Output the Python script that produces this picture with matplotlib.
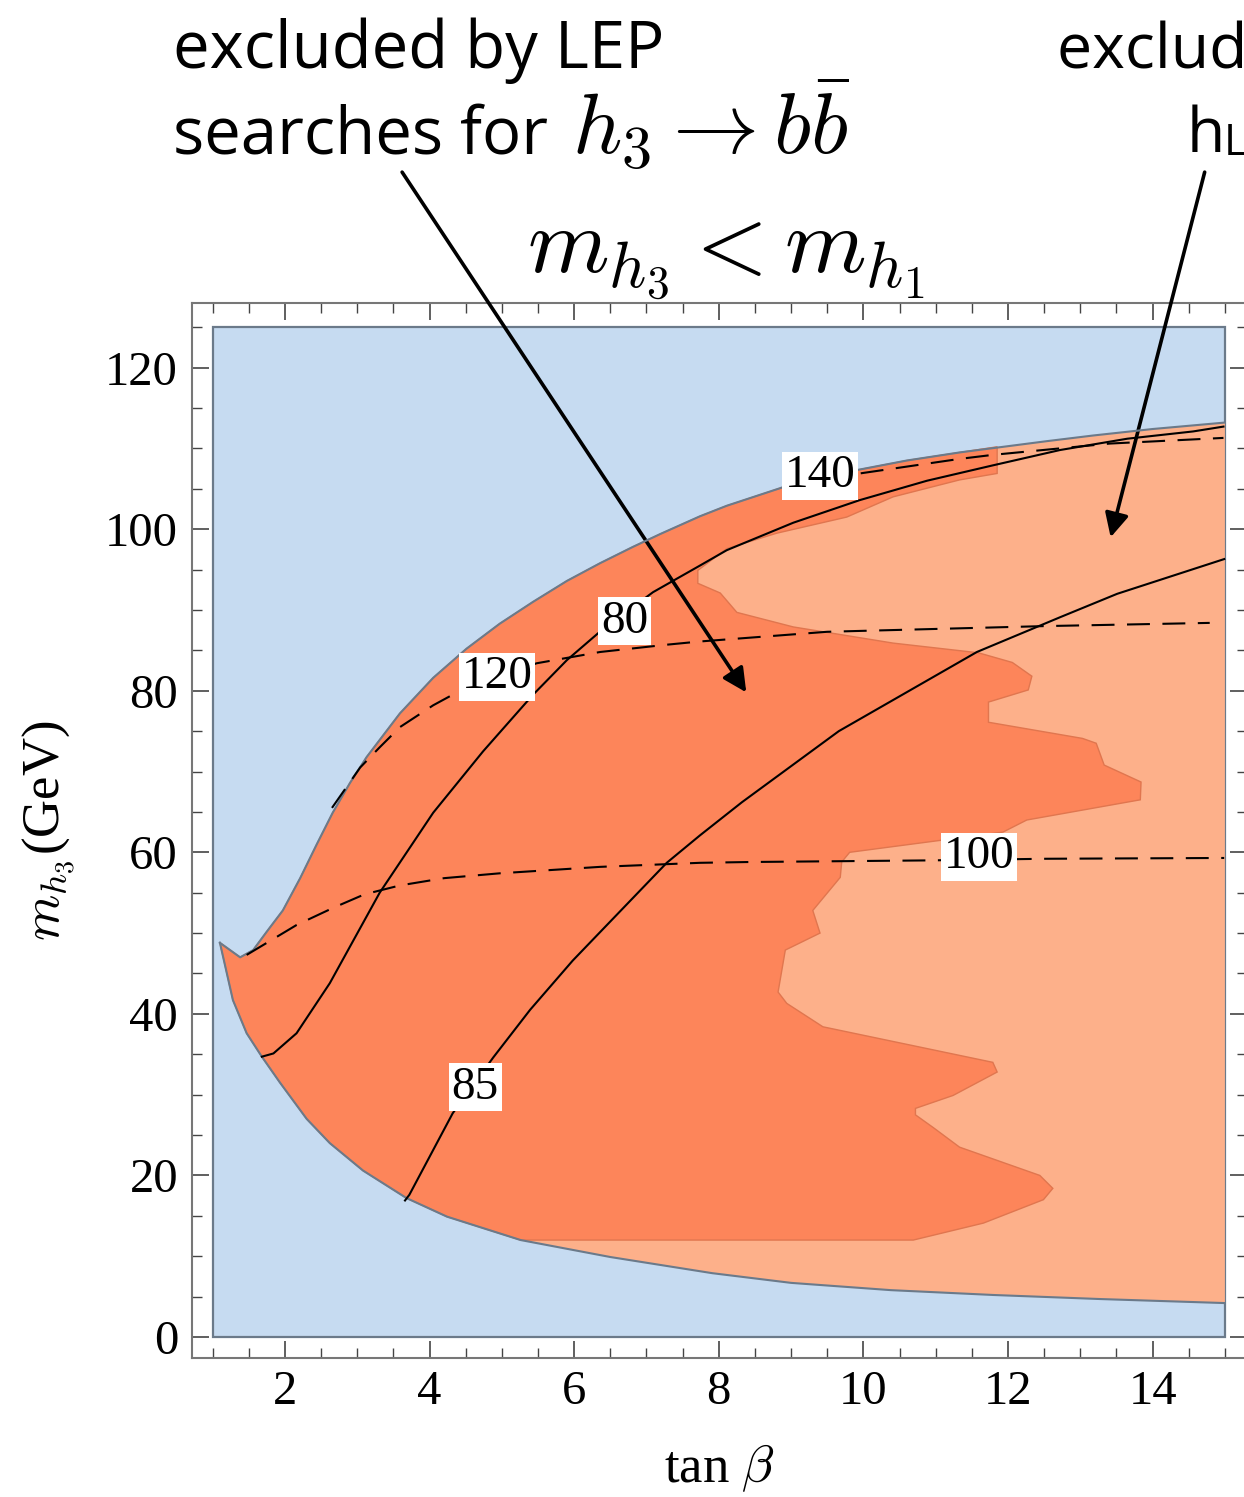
import matplotlib.pyplot as plt
from matplotlib.patches import Rectangle
from matplotlib.ticker import MultipleLocator

plt.rcParams['mathtext.fontset'] = 'cm'
plt.rcParams['font.family'] = ['Liberation Serif', 'DejaVu Serif']

# allowed region: upper edge (starts at the tip near tan(beta)=1.1)
ub_tb = [1.10, 1.38, 1.56, 1.75, 1.97, 2.21, 2.44, 2.66, 2.90, 3.13, 3.59, 4.05, 4.51,
         4.97, 5.43, 5.90, 6.36, 6.81, 7.19, 7.74, 8.11, 8.89, 9.90, 10.60, 11.33,
         12.54, 13.18, 14.00, 15.0]
ub_m = [48.8, 47.0, 47.9, 50.2, 52.8, 56.8, 61.0, 64.9, 68.6, 71.8, 77.2, 81.6, 85.2,
        88.3, 91.0, 93.6, 95.8, 97.8, 99.4, 101.6, 102.9, 105.2, 107.3, 108.5, 109.5,
        110.9, 111.6, 112.4, 113.2]

# allowed region: lower edge
lb_tb = [1.10, 1.28, 1.47, 1.68, 1.93, 2.30, 2.62, 3.08, 3.68, 4.24, 5.26, 6.50, 7.91,
         9.00, 10.38, 11.80, 13.27, 15.0]
lb_m = [48.8, 41.7, 37.6, 34.7, 31.5, 27.0, 24.0, 20.6, 17.2, 14.9, 12.0, 9.9, 7.9,
        6.7, 5.8, 5.2, 4.7, 4.2]

# right-hand edge of the LEP h3 -> bb excluded area (top to bottom)
lep_tb = [11.85, 11.85, 11.33, 10.41, 9.77, 8.80, 8.11, 7.71, 7.71, 8.02, 8.25, 9.03,
          10.41, 11.59, 12.06, 12.33, 12.28, 11.73, 11.73, 13.03, 13.22, 13.33, 13.84,
          13.83, 12.26, 11.93, 9.81, 9.70, 9.68, 9.30, 9.40, 8.92, 8.82, 8.94, 9.44,
          11.79, 11.85, 11.24, 10.72, 10.72, 10.97, 11.33, 12.44, 12.62, 12.49, 11.66,
          10.69, 5.26]
lep_m = [110.2, 106.9, 106.1, 104.0, 101.5, 99.5, 97.6, 94.9, 93.3, 92.1, 89.7, 87.9,
         85.9, 84.7, 83.5, 81.8, 80.1, 78.6, 76.1, 74.1, 73.5, 70.8, 68.7,
         66.5, 64.0, 62.5, 60.0, 58.8, 56.9, 52.8, 50.0, 47.9, 42.7, 41.3, 38.4,
         34.0, 32.8, 29.9, 28.3, 27.5, 25.9, 23.5, 20.0, 18.4, 17.0, 14.1,
         12.0, 12.0]

# solid contours
c80_tb = [1.68, 1.84, 2.16, 2.62, 3.31, 4.05, 4.74, 5.43, 5.90, 6.38, 7.09, 7.74, 8.11,
          9.03, 9.95, 10.88, 11.79, 12.72, 13.65, 14.56, 14.98]
c80_m = [34.7, 35.1, 37.6, 43.8, 55.0, 64.9, 72.5, 79.5, 83.8, 87.5, 92.2, 95.5, 97.4,
         100.8, 103.6, 106.0, 107.9, 109.8, 111.2, 112.1, 112.7]
c85_tb = [3.66, 3.72, 4.32, 4.88, 5.39, 5.98, 7.28, 7.74, 8.32, 9.66, 11.57, 12.72,
          13.51, 14.99]
c85_m = [16.9, 17.6, 27.7, 34.6, 40.5, 46.6, 58.7, 62.1, 66.2, 75.0, 84.8, 89.1,
         92.0, 96.3]

# dashed contours
c100_tb = [1.47, 1.75, 2.16, 2.66, 3.10, 3.59, 4.20, 4.97, 6.36, 7.74, 8.43, 10.92,
           12.50, 14.99]
c100_m = [47.3, 48.8, 51.0, 53.1, 54.8, 55.9, 56.8, 57.4, 58.2, 58.7, 58.8, 59.0,
          59.2, 59.3]
c120_tb = [2.65, 3.04, 3.31, 3.59, 4.05, 4.42, 5.48, 6.36, 7.28, 7.74, 9.50, 12.49, 14.79]
c120_m = [65.5, 70.5, 73.0, 75.5, 78.2, 80.0, 83.4, 84.8, 85.7, 86.1, 87.3, 88.0, 88.4]
c140_tb = [9.00, 9.95, 11.33, 11.79, 13.41, 14.98]
c140_m = [105.3, 106.9, 108.7, 109.2, 110.6, 111.3]

blue = '#c6dbf1'
dark = '#fd855a'
light = '#fdb08a'
edge = '#6b7a8a'

W, H = 1244, 1497
fig = plt.figure(figsize=(W / 100, H / 100), dpi=100)
ax = fig.add_axes([192 / W, 139 / H, 1054.6 / W, 1055 / H])
ax.set_xlim(0.714, 15.3)
ax.set_ylim(-2.6, 128.0)

ax.add_patch(Rectangle((1, 0), 14, 125, facecolor=blue, edgecolor=edge, lw=1.6, zorder=1))

# light region: everything between the two edges
reg_x = ub_tb + [15.0] + lb_tb[::-1]
reg_y = ub_m + [lb_m[-1]] + lb_m[::-1]
ax.fill(reg_x, reg_y, color=light, lw=0, zorder=2)

# dark region: LEP exclusion
ub_part = [(t, m) for t, m in zip(ub_tb, ub_m) if t < 11.85]
lb_part = [(t, m) for t, m in zip(lb_tb, lb_m) if t < 5.26][::-1]
pts = ub_part + list(zip(lep_tb, lep_m)) + lb_part
ax.fill([p[0] for p in pts], [p[1] for p in pts], facecolor=dark,
        edgecolor='#e0764f', lw=1.0, zorder=3)

ax.plot(ub_tb, ub_m, color=edge, lw=1.5, zorder=4)
ax.plot(lb_tb, lb_m, color=edge, lw=1.5, zorder=4)

ax.plot(c80_tb, c80_m, color='k', lw=1.5, zorder=5)
ax.plot(c85_tb, c85_m, color='k', lw=1.5, zorder=5)
for tb, m in [(c100_tb, c100_m), (c120_tb, c120_m), (c140_tb, c140_m)]:
    ax.plot(tb, m, color='k', lw=1.5, ls=(0, (11, 6)), zorder=5)

box = dict(facecolor='white', edgecolor='none', pad=2)
for txt, x, y in [('140', 9.40, 106.6), ('80', 6.70, 88.6), ('120', 4.93, 81.7),
                  ('100', 11.60, 59.4), ('85', 4.63, 30.9)]:
    ax.text(x, y, txt, fontsize=34, ha='center', va='center', bbox=box, zorder=6)

# frame and ticks
for s in ax.spines.values():
    s.set_color('#777777')
    s.set_linewidth(1.5)
ax.xaxis.set_major_locator(MultipleLocator(2))
ax.xaxis.set_minor_locator(MultipleLocator(0.5))
ax.yaxis.set_major_locator(MultipleLocator(20))
ax.yaxis.set_minor_locator(MultipleLocator(5))
ax.tick_params(which='both', direction='in', top=True, right=True, color='#444444',
               labelsize=35)
ax.tick_params(which='major', length=12, width=1.2)
ax.tick_params(which='minor', length=7, width=1.0)
ax.tick_params(axis='x', pad=9)
ax.tick_params(axis='y', pad=10)
ax.set_xticks([2, 4, 6, 8, 10, 12, 14])
ax.set_yticks([0, 20, 40, 60, 80, 100, 120])

ax.set_xlabel(r'tan $\beta$', fontsize=38, labelpad=20)
ax.set_ylabel(r'$m_{h_3}$(GeV)', fontsize=38, labelpad=20)

# annotations above the frame
sans = ['Open Sans', 'DejaVu Sans']
fig.text(173 / W, 1 - 68 / H, 'excluded by LEP', family=sans, fontsize=47, va='baseline')
fig.text(173 / W, 1 - 153 / H, 'searches for', family=sans, fontsize=47, va='baseline')
fig.text(572 / W, 1 - 153 / H, r'$h_3\rightarrow b\bar{b}$', fontsize=62, va='baseline')
fig.text(527 / W, 1 - 273 / H, r'$m_{h_3}<m_{h_1}$', fontsize=67, va='baseline')
fig.text(1057 / W, 1 - 68 / H, 'excluded by', family=sans, fontsize=45, va='baseline')
fig.text(1187 / W, 1 - 152 / H, 'h', family=sans, fontsize=45, va='baseline')
fig.text(1224 / W, 1 - 155 / H, 'L', family=sans, fontsize=31, va='baseline')

arrow = dict(arrowstyle='-|>', color='k', lw=2.6, mutation_scale=36, shrinkA=0, shrinkB=0)
ax.annotate('', xy=(8.38, 79.8), xytext=(3.62, 144.2), arrowprops=arrow,
            annotation_clip=False)
ax.annotate('', xy=(13.42, 99.0), xytext=(14.72, 144.2), arrowprops=arrow,
            annotation_clip=False)

fig.savefig('out.png', dpi=100)
